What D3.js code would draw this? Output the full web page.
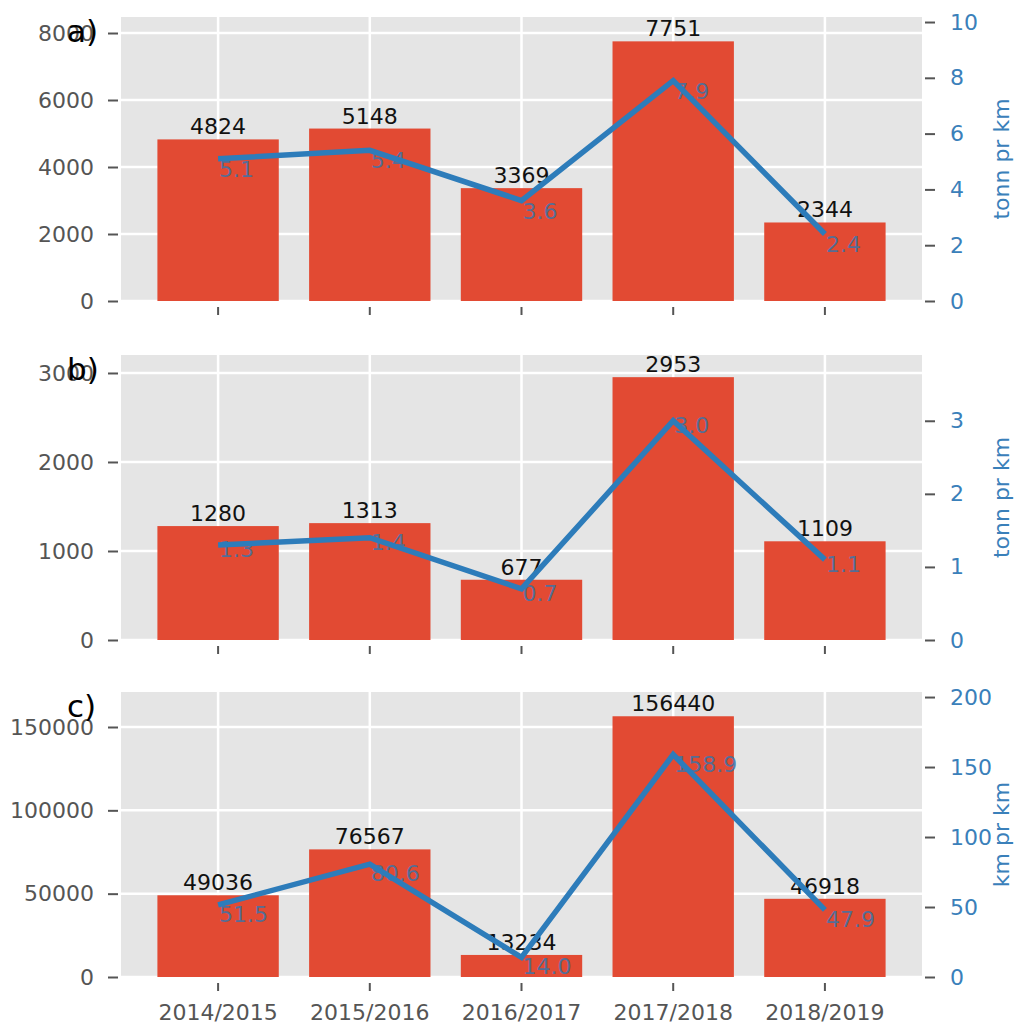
<!DOCTYPE html>
<html>
<head>
<meta charset="utf-8">
<script src="https://cdn.jsdelivr.net/npm/d3@7"></script>
<style>
  html, body { margin: 0; padding: 0; background: #ffffff; }
  svg { display: block; font-family: "DejaVu Sans", sans-serif; }
</style>
</head>
<body>
<svg id="chart" width="1029" height="1026"></svg>
<script>
// ---- data ----
const seasons = ["2014/2015", "2015/2016", "2016/2017", "2017/2018", "2018/2019"];

const barsA = [4824, 5148, 3369, 7751, 2344];
const lineA = [5.1, 5.4, 3.6, 7.9, 2.4];
const barsB = [1280, 1313, 677, 2953, 1109];
const lineB = [1.3, 1.4, 0.7, 3.0, 1.1];
const barsC = [49036, 76567, 13234, 156440, 46918];
const lineC = [51.5, 80.6, 14.0, 158.9, 47.9];

const leftTicksA = [0, 2000, 4000, 6000, 8000];
const rightTicksA = [0, 2, 4, 6, 8, 10];
const leftTicksB = [0, 1000, 2000, 3000];
const rightTicksB = [0, 1, 2, 3];
const leftTicksC = [0, 50000, 100000, 150000];
const rightTicksC = [0, 50, 100, 150, 200];

const panelLabels = ["a)", "b)", "c)"];
const rightTitles = ["tonn pr km", "tonn pr km", "km pr km"];

// ---- styling ----
const BAR = "#E24A33";
const LINE = "#2d7cba";
const BG = "#E5E5E5";
const TICK = "#555555";
const FS = 22;

const svg = d3.select("#chart");

const x = d3.scaleBand().domain(seasons).range([121, 922]).paddingInner(0.2).paddingOuter(0.24);

const panels = [
  { top: 17, bottom: 301, bars: barsA, line: lineA, lmax: 8478, rmax: 10.18, lt: leftTicksA, rt: rightTicksA, off: 18 },
  { top: 355, bottom: 640, bars: barsB, line: lineB, lmax: 3202, rmax: 3.9, lt: leftTicksB, rt: rightTicksB, off: 12 },
  { top: 692, bottom: 977, bars: barsC, line: lineC, lmax: 171000, rmax: 203.6, lt: leftTicksC, rt: rightTicksC, off: 17 }
];

panels.forEach((p, pi) => {
  const g = svg.append("g");
  const yl = d3.scaleLinear().domain([0, p.lmax]).range([p.bottom, p.top]);
  const yr = d3.scaleLinear().domain([0, p.rmax]).range([p.bottom, p.top]);
  const [x0, x1] = x.range();

  // background
  g.append("rect").attr("x", x0).attr("y", p.top).attr("width", x1 - x0).attr("height", p.bottom - p.top).attr("fill", BG);

  // grid (left axis + x ticks)
  g.selectAll(".hg").data(p.lt).join("line")
    .attr("x1", x0).attr("x2", x1)
    .attr("y1", d => yl(d)).attr("y2", d => yl(d))
    .attr("stroke", "#ffffff").attr("stroke-width", 2.5);
  g.selectAll(".vg").data(seasons).join("line")
    .attr("x1", d => x(d) + x.bandwidth() / 2).attr("x2", d => x(d) + x.bandwidth() / 2)
    .attr("y1", p.top).attr("y2", p.bottom)
    .attr("stroke", "#ffffff").attr("stroke-width", 2.5);

  // bars
  g.selectAll(".bar").data(p.bars).join("rect")
    .attr("x", (d, i) => x(seasons[i]))
    .attr("width", x.bandwidth())
    .attr("y", d => yl(d))
    .attr("height", d => p.bottom - yl(d))
    .attr("fill", BAR);

  // bar labels
  g.selectAll(".bl").data(p.bars).join("text")
    .attr("x", (d, i) => x(seasons[i]) + x.bandwidth() / 2)
    .attr("y", d => yl(d) - 5)
    .attr("text-anchor", "middle")
    .attr("font-size", FS)
    .attr("fill", "#111111")
    .text(d => d);

  // line labels (under the line)
  g.selectAll(".ll").data(p.line).join("text")
    .attr("x", (d, i) => x(seasons[i]) + x.bandwidth() / 2 + 1)
    .attr("y", d => yr(d) + p.off)
    .attr("font-size", FS)
    .attr("fill", "#3b74a8")
    .attr("fill-opacity", 0.85)
    .text(d => d.toFixed(1));

  // line
  const lineGen = d3.line()
    .x((d, i) => x(seasons[i]) + x.bandwidth() / 2)
    .y(d => yr(d));
  g.append("path").datum(p.line)
    .attr("d", lineGen)
    .attr("fill", "none")
    .attr("stroke", LINE)
    .attr("stroke-width", 5.5)
    .attr("stroke-linejoin", "miter");

  // left axis
  const la = g.append("g").attr("transform", `translate(118,0)`)
    .call(d3.axisLeft(yl).tickValues(p.lt).tickFormat(d3.format("d")).tickSize(10).tickPadding(14));
  la.select(".domain").remove();
  la.selectAll("line").attr("stroke", TICK).attr("stroke-width", 2);
  la.selectAll("text").attr("fill", TICK).attr("font-size", FS).attr("font-family", "DejaVu Sans");

  // right axis
  const ra = g.append("g").attr("transform", `translate(925,0)`)
    .call(d3.axisRight(yr).tickValues(p.rt).tickFormat(d3.format("d")).tickSize(10).tickPadding(15));
  ra.select(".domain").remove();
  ra.selectAll("line").attr("stroke", TICK).attr("stroke-width", 2);
  ra.selectAll("text").attr("fill", "#3a80ba").attr("font-size", FS).attr("font-family", "DejaVu Sans");

  // bottom axis
  const ba = g.append("g").attr("transform", `translate(0,${p.bottom + 6})`)
    .call(d3.axisBottom(x).tickSize(8).tickPadding(13));
  ba.select(".domain").remove();
  ba.selectAll("line").attr("stroke", TICK).attr("stroke-width", 2);
  ba.selectAll("text").attr("fill", TICK).attr("font-size", FS).attr("font-family", "DejaVu Sans");
  if (pi < 2) ba.selectAll("text").remove();

  // right axis title
  const midY = (p.top + p.bottom) / 2;
  g.append("text")
    .attr("transform", `translate(1009,${midY}) rotate(-90)`)
    .attr("text-anchor", "middle")
    .attr("font-size", FS)
    .attr("fill", "#3a80ba")
    .text(rightTitles[pi]);

  // panel label
  g.append("text")
    .attr("x", 67).attr("y", p.top + 25)
    .attr("font-size", 31)
    .attr("fill", "#000000")
    .text(panelLabels[pi]);
});
</script>
</body>
</html>
